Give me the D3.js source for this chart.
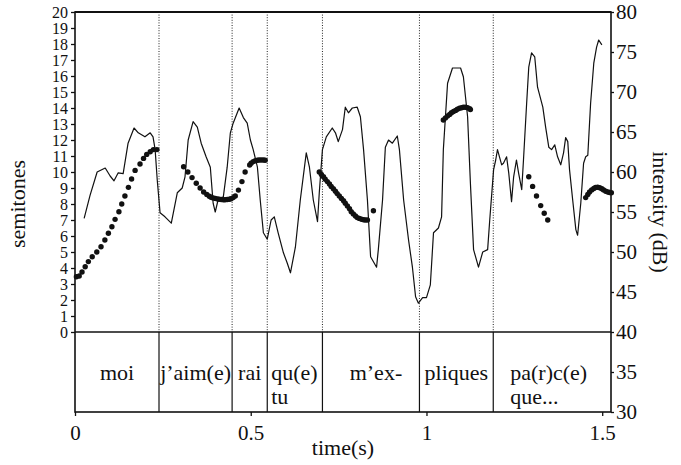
<!DOCTYPE html>
<html>
<head>
<meta charset="utf-8">
<script src="https://cdn.jsdelivr.net/npm/d3@7"></script>
<style>
  body { margin: 0; background: #fff; }
</style>
</head>
<body>
<svg id="chart" width="681" height="465"></svg>
<script>
// syllable boundaries (s) and their labels
const boundaries = [0.239, 0.447, 0.547, 0.704, 0.98, 1.19];
const syllables = [['moi'], ['j’aim(e)'], ['rai'], ['qu(e)', 'tu'], ['m’ex-'], ['pliques'], ['pa(r)c(e)', 'que...']];

// tick labels
const semitoneTicks = d3.range(0, 21);
const dbTicks = [30, 35, 40, 45, 50, 55, 60, 65, 70, 75, 80];
const timeTicks = [0, 0.5, 1, 1.5];

// intensity curve [time s, dB]
const intensity = [
  [0.026, 54.2], [0.043, 57.1], [0.063, 60.0], [0.086, 60.5], [0.1, 59.5], [0.111, 58.9], [0.123, 59.9],
  [0.137, 59.8], [0.151, 63.6], [0.168, 65.5], [0.18, 64.9], [0.199, 64.4], [0.214, 64.9], [0.222, 64.4],
  [0.228, 62.8], [0.234, 59.0], [0.242, 54.9], [0.256, 54.4], [0.274, 53.6], [0.291, 57.4], [0.305, 58.0],
  [0.313, 59.4], [0.322, 64.0], [0.336, 66.3], [0.348, 65.6], [0.359, 63.6], [0.373, 61.9], [0.385, 60.6],
  [0.393, 56.1], [0.399, 55.0], [0.407, 56.5], [0.422, 56.9], [0.433, 60.6], [0.442, 64.9], [0.45, 66.1],
  [0.467, 68.0], [0.479, 66.8], [0.49, 66.1], [0.499, 64.0], [0.507, 62.8], [0.519, 60.6], [0.527, 56.5],
  [0.536, 52.4], [0.547, 51.6], [0.558, 54.0], [0.567, 54.4], [0.578, 52.4], [0.593, 49.9], [0.604, 48.6],
  [0.613, 47.4], [0.627, 50.6], [0.641, 56.5], [0.658, 62.4], [0.667, 60.6], [0.678, 56.5], [0.69, 53.8],
  [0.695, 57.4], [0.704, 62.8], [0.715, 64.4], [0.732, 65.5], [0.741, 64.9], [0.749, 63.8], [0.761, 65.3],
  [0.769, 68.1], [0.778, 67.4], [0.789, 68.0], [0.803, 68.1], [0.812, 66.9], [0.821, 62.8], [0.832, 56.5],
  [0.841, 49.4], [0.858, 48.1], [0.863, 50.3], [0.875, 56.5], [0.883, 63.1], [0.892, 64.0], [0.903, 63.6],
  [0.917, 64.5], [0.923, 62.8], [0.935, 56.5], [0.949, 51.5], [0.96, 48.1], [0.969, 44.4], [0.977, 43.6],
  [0.989, 44.3], [1.0, 44.3], [1.011, 45.9], [1.02, 52.4], [1.034, 53.0], [1.043, 54.4], [1.048, 62.8],
  [1.06, 71.1], [1.074, 73.0], [1.097, 73.0], [1.105, 71.9], [1.117, 66.9], [1.125, 58.6], [1.134, 50.3],
  [1.148, 48.1], [1.16, 50.0], [1.174, 50.3], [1.18, 54.0], [1.191, 60.3], [1.197, 61.5], [1.202, 62.8],
  [1.214, 60.9], [1.219, 61.1], [1.228, 61.9], [1.234, 59.9], [1.242, 56.3], [1.248, 59.4], [1.256, 61.5],
  [1.262, 59.9], [1.271, 57.8], [1.276, 61.5], [1.285, 68.6], [1.291, 73.1], [1.299, 74.9], [1.308, 74.4],
  [1.316, 70.6], [1.331, 68.1], [1.339, 65.6], [1.348, 63.1], [1.356, 62.8], [1.365, 63.4], [1.373, 61.9],
  [1.382, 60.9], [1.39, 62.4], [1.396, 64.3], [1.402, 63.8], [1.407, 60.3], [1.416, 56.5], [1.425, 52.8],
  [1.43, 52.1], [1.439, 56.1], [1.447, 61.1], [1.453, 61.9], [1.459, 62.1], [1.467, 68.6], [1.476, 73.6],
  [1.484, 75.6], [1.49, 76.5], [1.499, 75.9]
];

// pitch points [time s, semitones], one array per voiced stretch
const pitchMoi = [
  [0.004, 3.45], [0.012, 3.5], [0.02, 3.75], [0.029, 4.08], [0.038, 4.4], [0.049, 4.7], [0.062, 5.0],
  [0.074, 5.33], [0.085, 5.75], [0.095, 6.17], [0.105, 6.58], [0.114, 7.04], [0.125, 7.52], [0.133, 8.0],
  [0.142, 8.5], [0.152, 9.04], [0.161, 9.56], [0.171, 10.1], [0.185, 10.5], [0.195, 10.85], [0.204, 11.1],
  [0.214, 11.27], [0.223, 11.4], [0.233, 11.4]
];
const pitchJaimRai = [
  [0.309, 10.33], [0.321, 10.0], [0.333, 9.65], [0.345, 9.3], [0.356, 9.0], [0.366, 8.75], [0.375, 8.6],
  [0.382, 8.48], [0.387, 8.42], [0.393, 8.38], [0.399, 8.35], [0.405, 8.32], [0.41, 8.3], [0.416, 8.28],
  [0.422, 8.27], [0.427, 8.27], [0.433, 8.28], [0.439, 8.3], [0.444, 8.33], [0.45, 8.4], [0.456, 8.5],
  [0.465, 8.87], [0.475, 9.4], [0.484, 10.0], [0.497, 10.44], [0.501, 10.55], [0.507, 10.65], [0.513, 10.7],
  [0.519, 10.73], [0.524, 10.75], [0.53, 10.75], [0.536, 10.75], [0.541, 10.73]
];
const pitchMex = [
  [0.695, 10.0], [0.701, 9.85], [0.707, 9.7], [0.712, 9.55], [0.718, 9.4], [0.724, 9.25], [0.729, 9.1],
  [0.735, 8.95], [0.741, 8.8], [0.746, 8.65], [0.752, 8.5], [0.758, 8.35], [0.764, 8.2], [0.769, 8.05],
  [0.775, 7.88], [0.781, 7.7], [0.786, 7.52], [0.792, 7.38], [0.798, 7.25], [0.803, 7.15], [0.809, 7.1],
  [0.815, 7.05], [0.821, 7.02], [0.826, 7.0], [0.832, 7.0], [0.849, 7.58]
];
const pitchPliques = [
  [1.048, 13.25], [1.054, 13.38], [1.06, 13.5], [1.066, 13.6], [1.071, 13.7], [1.077, 13.78], [1.083, 13.85],
  [1.088, 13.92], [1.094, 13.98], [1.1, 14.02], [1.105, 14.05], [1.111, 14.05], [1.117, 14.02], [1.123, 13.95],
  [1.125, 13.9]
];
const pitchParce = [[1.291, 9.7], [1.302, 9.1], [1.313, 8.5], [1.325, 7.9], [1.335, 7.42], [1.345, 7.0]];
const pitchQue = [
  [1.453, 8.4], [1.459, 8.6], [1.464, 8.75], [1.47, 8.88], [1.476, 8.97], [1.481, 9.03], [1.487, 9.05],
  [1.493, 9.02], [1.499, 8.95], [1.504, 8.88], [1.51, 8.8], [1.516, 8.75], [1.521, 8.72], [1.526, 8.7]
];

const serif = '"Liberation Serif", "DejaVu Serif", serif';
const svg = d3.select('#chart').attr('font-family', serif);
const plotLeft = 75, plotRight = 611, plotTop = 12, plotMid = 332, plotBottom = 412;

const x = d3.scaleLinear().domain([0, 1.525]).range([plotLeft, plotRight]);
const ySt = d3.scaleLinear().domain([0, 20]).range([plotMid, plotTop]);
const yDb = d3.scaleLinear().domain([30, 80]).range([plotBottom, plotTop]);

// boundaries: dotted above, solid in the label box
const gb = svg.append('g');
gb.selectAll('.dot-line').data(boundaries).enter().append('line')
  .attr('x1', d => x(d)).attr('x2', d => x(d))
  .attr('y1', plotTop).attr('y2', plotMid)
  .attr('stroke', '#222').attr('stroke-width', 1).attr('stroke-dasharray', '1,1.6');
gb.selectAll('.solid-line').data(boundaries).enter().append('line')
  .attr('x1', d => x(d)).attr('x2', d => x(d))
  .attr('y1', plotMid).attr('y2', plotBottom)
  .attr('stroke', '#111').attr('stroke-width', 1.2);

// frame
svg.append('rect').attr('x', plotLeft).attr('y', plotTop)
  .attr('width', plotRight - plotLeft).attr('height', plotBottom - plotTop)
  .attr('fill', 'none').attr('stroke', '#111').attr('stroke-width', 1.6);
svg.append('line').attr('x1', plotLeft).attr('x2', plotRight).attr('y1', plotTop).attr('y2', plotTop)
  .attr('stroke', '#111').attr('stroke-width', 2.2);
svg.append('line').attr('x1', plotLeft).attr('x2', plotRight).attr('y1', plotMid).attr('y2', plotMid)
  .attr('stroke', '#111').attr('stroke-width', 1.6);

// intensity line
svg.append('path').datum(intensity)
  .attr('fill', 'none').attr('stroke', '#111').attr('stroke-width', 1.2).attr('stroke-linejoin', 'round')
  .attr('d', d3.line().x(d => x(d[0])).y(d => yDb(d[1])));

// pitch dots
const pitch = [pitchMoi, pitchJaimRai, pitchMex, pitchPliques, pitchParce, pitchQue].flat();
svg.append('g').selectAll('circle').data(pitch).enter().append('circle')
  .attr('cx', d => x(d[0])).attr('cy', d => ySt(d[1])).attr('r', 2.7).attr('fill', '#111');

// axes
const axLeft = svg.append('g').attr('transform', `translate(${plotLeft},0)`)
  .call(d3.axisLeft(ySt).tickValues(semitoneTicks).tickSize(4).tickPadding(3).tickSizeOuter(0));
axLeft.attr('font-family', serif).attr('font-size', 16);

const axRight = svg.append('g').attr('transform', `translate(${plotRight},0)`)
  .call(d3.axisRight(yDb).tickValues(dbTicks).tickSize(3).tickPadding(2).tickSizeOuter(0));
axRight.attr('font-family', serif).attr('font-size', 21);

const axBottom = svg.append('g').attr('transform', `translate(0,${plotBottom})`)
  .call(d3.axisBottom(x).tickValues(timeTicks).tickFormat(d3.format('')).tickSize(4).tickPadding(9).tickSizeOuter(0));
axBottom.attr('font-family', serif).attr('font-size', 21);

svg.selectAll('.domain').remove();
svg.selectAll('.tick line').attr('stroke', '#111').attr('stroke-width', 1.3);
svg.selectAll('.tick text').attr('fill', '#111');

// syllable labels
const starts = [0].concat(boundaries);
const ends = boundaries.concat([1.525]);
const labelShift = [0, 0, 0, 4, 5, 0, 17];
syllables.forEach((lines, i) => {
  const twoLines = lines.length > 1;
  const t = svg.append('text').attr('font-size', 22).attr('fill', '#111')
    .attr('text-anchor', twoLines ? 'start' : 'middle');
  const xPos = twoLines ? x(starts[i]) + labelShift[i] : (x(starts[i]) + x(ends[i])) / 2 + labelShift[i];
  lines.forEach((s, j) => {
    t.append('tspan').attr('x', xPos).attr('y', 380 + j * 24).text(s);
  });
});

// axis titles
svg.append('text').attr('transform', 'translate(25,204) rotate(-90)')
  .attr('text-anchor', 'middle').attr('font-size', 22).attr('fill', '#111').text('semitones');
svg.append('text').attr('transform', 'translate(653,212) rotate(90)')
  .attr('text-anchor', 'middle').attr('font-size', 22).attr('fill', '#111').text('intensity (dB)');
svg.append('text').attr('x', 343).attr('y', 455)
  .attr('text-anchor', 'middle').attr('font-size', 22).attr('fill', '#111').text('time(s)');
</script>
</body>
</html>
